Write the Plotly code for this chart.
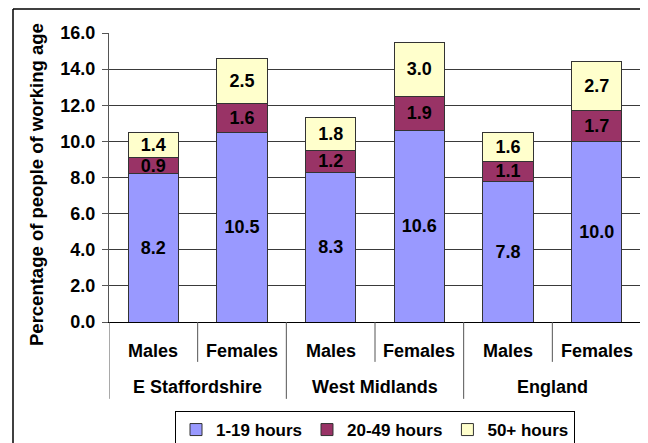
import plotly.graph_objects as go

groups = ["E Staffordshire", "West Midlands", "England"]
sexes = ["Males", "Females"]
series_names = ["1-19 hours", "20-49 hours", "50+ hours"]
hours_1_19 = [8.2, 10.5, 8.3, 10.6, 7.8, 10.0]
hours_20_49 = [0.9, 1.6, 1.2, 1.9, 1.1, 1.7]
hours_50_plus = [1.4, 2.5, 1.8, 3.0, 1.6, 2.7]
y_ticks = [0, 2, 4, 6, 8, 10, 12, 14, 16]
y_title = "Percentage of people of working age"

colors = ["#9999FF", "#993366", "#FFFFCC"]
FONT = "Arial, Liberation Sans, sans-serif"
FS = 18

# page has an 8px body margin, so the figure is 640x435 placed at (8, 8)
W, H = 640, 435
ML, MT, MR, MB = 101, 25, 7, 121
PW, PH = W - ML - MR, H - MT - MB

cats = [f"{g}|{s}" for g in groups for s in sexes]

fig = go.Figure()
for name, vals, col in zip(series_names, [hours_1_19, hours_20_49, hours_50_plus], colors):
    fig.add_trace(go.Bar(
        x=cats, y=vals, name=name,
        marker=dict(color=col, line=dict(color="#333333", width=1)),
        text=[f"{v:.1f}" for v in vals],
        textposition="inside", insidetextanchor="middle", textangle=0,
        textfont=dict(family=FONT, size=FS, color="black", weight="bold"),
    ))

fig.update_layout(
    barmode="stack", bargap=0.43,
    width=W, height=H,
    margin=dict(l=ML, r=MR, t=MT, b=MB, autoexpand=False),
    paper_bgcolor="white", plot_bgcolor="white",
    font=dict(family=FONT, size=FS, color="black", weight="bold"),
    uniformtext=dict(minsize=FS, mode="show"),
    showlegend=True,
    legend=dict(orientation="h", x=0.5, xanchor="center", y=-(403 - 314) / PH, yanchor="top",
                bgcolor="white", bordercolor="black", borderwidth=1,
                font=dict(family=FONT, size=17, color="black", weight="bold"),
                traceorder="normal", itemwidth=30, tracegroupgap=0),
)
fig.update_xaxes(type="category", range=[-0.5, len(cats) - 0.5], showticklabels=False,
                 showline=True, linecolor="black", linewidth=1, ticks="", showgrid=False,
                 automargin=False, fixedrange=True)
fig.update_yaxes(range=[0, 16], tickvals=y_ticks, tickformat=".1f",
                 showgrid=True, gridcolor="#3a3a3a", gridwidth=1,
                 showline=True, linecolor="#555555", linewidth=1,
                 ticks="outside", ticklen=6, tickcolor="#555555", ticklabelstandoff=3,
                 tickfont=dict(family=FONT, size=FS, color="black", weight="bold"),
                 automargin=False, zeroline=False)

# y-axis title, category labels
ann = [dict(x=(36 - 8 - ML) / PW, y=1 - (185 - 8 - MT) / PH, xref="paper", yref="paper",
            text=y_title, textangle=-90, showarrow=False, xanchor="center", yanchor="middle",
            font=dict(family=FONT, size=18.5, color="black", weight="bold"))]
for i, c in enumerate(cats):
    ann.append(dict(x=c, y=-0.100, xref="x", yref="paper", text=c.split("|")[1],
                    showarrow=False, yanchor="middle", xanchor="center",
                    font=dict(family=FONT, size=FS, color="black", weight="bold")))
for gi, g in enumerate(groups):
    ann.append(dict(x=gi * 2 + 0.5, y=-0.225, xref="x", yref="paper", text=g,
                    showarrow=False, yanchor="middle", xanchor="center",
                    font=dict(family=FONT, size=FS, color="black", weight="bold")))
fig.update_layout(annotations=ann)

shapes = []
for gi in range(len(groups) + 1):
    xpos = gi * 2 - 0.5
    shapes.append(dict(type="line", xref="x", yref="paper", x0=xpos, x1=xpos,
                       y0=0, y1=-0.266, line=dict(color="#555555", width=1)))
for gi in range(len(groups)):
    xpos = gi * 2 + 0.5
    shapes.append(dict(type="line", xref="x", yref="paper", x0=xpos, x1=xpos,
                       y0=0, y1=-0.138, line=dict(color="#555555", width=1)))
# outer frame (left and top edges)
fx = (13 - 8 - ML) / PW
fy = 1 + (MT - 1) / PH
shapes.append(dict(type="line", xref="paper", yref="paper",
                   x0=fx, x1=fx, y0=fy, y1=-0.5, line=dict(color="black", width=1.5)))
shapes.append(dict(type="line", xref="paper", yref="paper",
                   x0=fx, x1=1.05, y0=fy, y1=fy, line=dict(color="black", width=1.5)))
fig.update_layout(shapes=shapes)

fig.write_html("out.html")
